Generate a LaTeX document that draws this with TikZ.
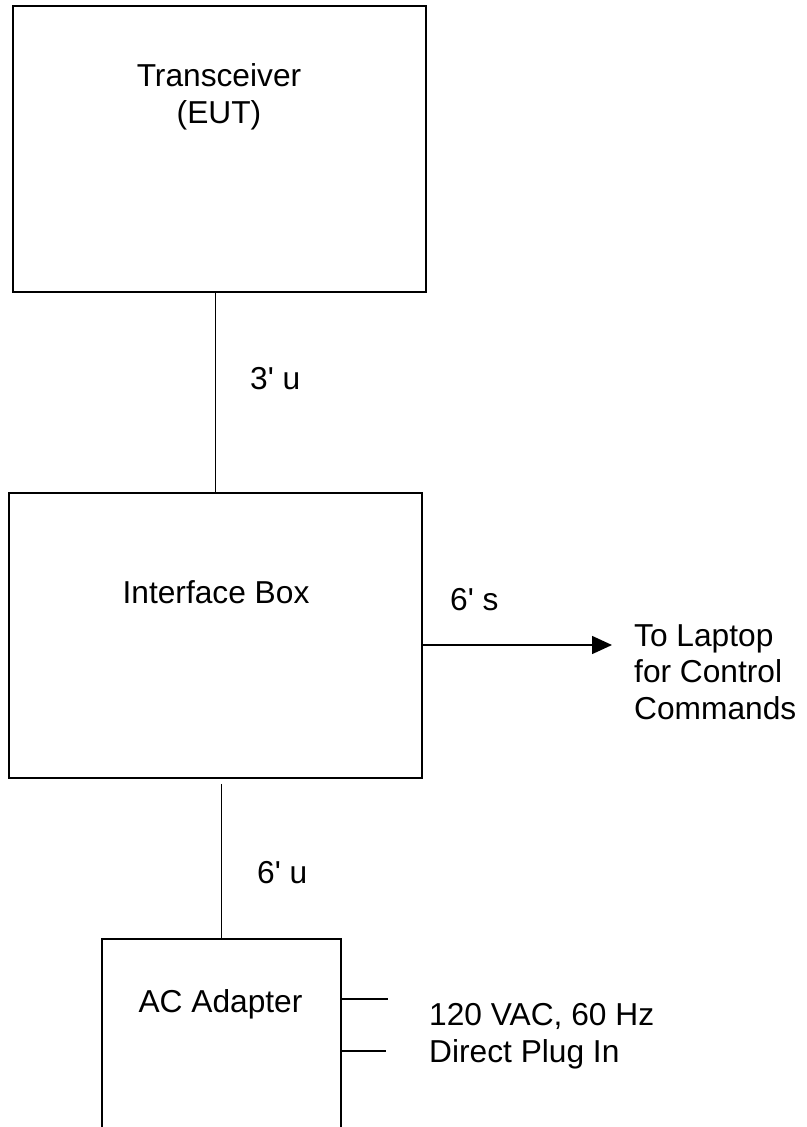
\documentclass[tikz,border=0pt]{standalone}
\usepackage{fontspec}
\setmainfont{Liberation Sans}
\usetikzlibrary{calc,arrows.meta}

\begin{document}
\begin{tikzpicture}[x=1pt,y=-1pt,
	every node/.style={font=\fontsize{31.7}{36.5}\selectfont,inner sep=0pt},
	box/.style={draw,line width=1.8pt},
	wire/.style={line width=1.5pt}]

\useasboundingbox (0,0) rectangle (806,1127);
\clip (0,0) rectangle (806,1127);

\node[box,minimum width=413pt,minimum height=286pt] (xcvr) at (219.5,149) {};
\node[box,minimum width=413pt,minimum height=285pt] (ifbox) at (215.5,635.5) {};
\node[box,minimum width=239pt,minimum height=240pt] (acadp) at (221.5,1059) {};

% multi-line nodes sit on the baseline of their last line
\node[anchor=base,align=center] (xcvrtxt) at (219,123) {Transceiver\\(EUT)};
\node[anchor=base] (iftxt) at (216,603) {Interface Box};
\node[anchor=base] (actxt) at (220.5,1012) {AC Adapter};

\node[anchor=base west] (len1) at (250,389) {3\textquotesingle{} u};
\node[anchor=base west] (len2) at (450,610) {6\textquotesingle{} s};
\node[anchor=base west] (len3) at (257,883) {6\textquotesingle{} u};

\node[anchor=base west,align=left] (laptop) at (634,719) {To Laptop\\for Control\\Commands};
\node[anchor=base west,align=left] (mains) at (429,1062) {120 VAC, 60 Hz\\Direct Plug In};

\coordinate (tip) at (612,645);
\coordinate (plugtop) at (388,999);
\coordinate (plugbot) at (386,1051);

\draw[wire] (ifbox.north |- xcvr.south) -- (ifbox.north);
\draw[wire] ($(ifbox.south -| acadp.north)+(0,5)$) -- (acadp.north);
\draw[wire,-{Triangle[length=20pt,width=18pt]}] (ifbox.east |- tip) -- (tip);
\draw[wire] (acadp.east |- plugtop) -- (plugtop);
\draw[wire] (acadp.east |- plugbot) -- (plugbot);

\end{tikzpicture}
\end{document}
